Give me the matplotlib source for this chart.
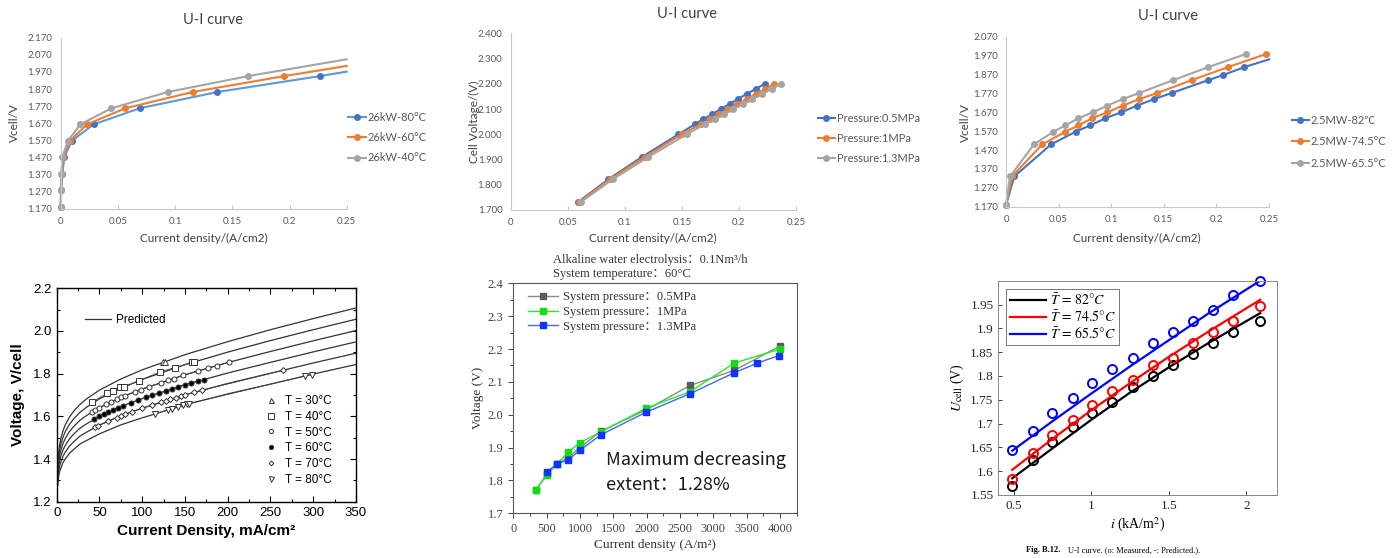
import matplotlib
matplotlib.use('Agg')
import matplotlib.pyplot as plt
from matplotlib.lines import Line2D
from matplotlib.ticker import MultipleLocator, FormatStrFormatter

plt.rcParams['mathtext.fontset'] = 'stix'

# ---------------- data ----------------
# Panel 1 (26 kW stack)
p1_x_80 = [0.0, 0.0005, 0.0015, 0.0032, 0.0099, 0.0288, 0.069, 0.137, 0.2267, 0.25]
p1_v_80 = [1.18, 1.281, 1.376, 1.475, 1.569, 1.664, 1.758, 1.853, 1.946, 1.972]
p1_x_60 = [0.0, 0.0004, 0.0008, 0.0017, 0.0082, 0.023, 0.0565, 0.1154, 0.1955, 0.25]
p1_v_60 = [1.18, 1.281, 1.376, 1.475, 1.569, 1.664, 1.758, 1.853, 1.946, 2.005]
p1_x_40 = [0.0, 0.0002, 0.0006, 0.0015, 0.0064, 0.0172, 0.0443, 0.0935, 0.164, 0.25]
p1_v_40 = [1.18, 1.281, 1.376, 1.475, 1.569, 1.664, 1.758, 1.853, 1.946, 2.044]
p1_labels = ['26kW-80°C', '26kW-60°C', '26kW-40°C']
p1_yticks = [1.17, 1.27, 1.37, 1.47, 1.57, 1.67, 1.77, 1.87, 1.97, 2.07, 2.17]
top_xticks = [0, 0.05, 0.1, 0.15, 0.2, 0.25]
top_xticklabels = ['0', '0.05', '0.1', '0.15', '0.2', '0.25']

# Panel 2 (pressure)
p2_v = [1.732, 1.822, 1.91, 2.0, 2.04, 2.06, 2.08, 2.10, 2.12, 2.14, 2.16, 2.18, 2.20]
p2_x_05 = [0.0593, 0.0856, 0.115, 0.147, 0.1615, 0.1688, 0.1767, 0.184, 0.1919, 0.1992, 0.2068, 0.215, 0.2225]
p2_x_10 = [0.0602, 0.087, 0.1174, 0.1498, 0.1668, 0.1747, 0.1828, 0.1907, 0.1986, 0.2068, 0.215, 0.2228, 0.231]
p2_x_13 = [0.0616, 0.0894, 0.1206, 0.1542, 0.1703, 0.179, 0.1872, 0.1951, 0.2033, 0.2114, 0.2202, 0.2287, 0.2369]
p2_labels = ['Pressure:0.5MPa', 'Pressure:1MPa', 'Pressure:1.3MPa']
p2_yticks = [1.7, 1.8, 1.9, 2.0, 2.1, 2.2, 2.3, 2.4]

# Panel 3 (2.5 MW stack)
p3_x_82 = [0.0, 0.0079, 0.0428, 0.0662, 0.0798, 0.0944, 0.1093, 0.1245, 0.141, 0.1575, 0.1923, 0.2063, 0.2266, 0.25]
p3_v_82 = [1.18, 1.33, 1.50, 1.567, 1.60, 1.638, 1.669, 1.705, 1.74, 1.772, 1.84, 1.867, 1.909, 1.95]
p3_x_745 = [0.0, 0.0057, 0.0345, 0.0564, 0.0688, 0.0817, 0.096, 0.1109, 0.1267, 0.1438, 0.1765, 0.211, 0.2471]
p3_v_745 = [1.18, 1.33, 1.50, 1.567, 1.60, 1.638, 1.669, 1.705, 1.74, 1.772, 1.84, 1.909, 1.978]
p3_x_655 = [0.0, 0.0038, 0.0266, 0.045, 0.0564, 0.0688, 0.0824, 0.0963, 0.1109, 0.1267, 0.159, 0.1923, 0.2278]
p3_v_655 = [1.18, 1.33, 1.50, 1.567, 1.60, 1.638, 1.669, 1.705, 1.74, 1.772, 1.84, 1.909, 1.978]
p3_labels = ['2.5MW-82℃', '2.5MW-74.5°C', '2.5MW-65.5°C']
p3_yticks = [1.17, 1.27, 1.37, 1.47, 1.57, 1.67, 1.77, 1.87, 1.97, 2.07]

# Panel 4 (predicted curves + measured points)
p4_i = [0, 0.5, 1, 2, 3.5, 5, 7.5, 10, 15, 20, 27, 35, 50, 75, 100, 150, 200, 250, 300, 350]
p4_pred_30 = [1.235, 1.305, 1.362, 1.421, 1.468, 1.499, 1.534, 1.560, 1.597, 1.625, 1.655, 1.682, 1.723, 1.775, 1.818, 1.889, 1.950, 2.006, 2.058, 2.108]
p4_pred_40 = [1.232, 1.290, 1.344, 1.399, 1.443, 1.471, 1.504, 1.528, 1.563, 1.589, 1.618, 1.643, 1.682, 1.732, 1.773, 1.842, 1.901, 1.955, 2.006, 2.055]
p4_pred_50 = [1.229, 1.275, 1.326, 1.377, 1.418, 1.443, 1.474, 1.496, 1.529, 1.553, 1.581, 1.604, 1.641, 1.689, 1.728, 1.795, 1.852, 1.904, 1.954, 2.002]
p4_pred_60 = [1.226, 1.260, 1.308, 1.355, 1.393, 1.415, 1.444, 1.464, 1.495, 1.517, 1.544, 1.565, 1.600, 1.646, 1.683, 1.748, 1.803, 1.853, 1.902, 1.949]
p4_pred_70 = [1.223, 1.245, 1.290, 1.333, 1.368, 1.387, 1.414, 1.432, 1.461, 1.481, 1.507, 1.526, 1.559, 1.603, 1.638, 1.701, 1.754, 1.802, 1.850, 1.896]
p4_pred_80 = [1.220, 1.230, 1.272, 1.311, 1.343, 1.359, 1.384, 1.400, 1.427, 1.445, 1.470, 1.487, 1.518, 1.560, 1.593, 1.654, 1.705, 1.751, 1.798, 1.843]
p4_m30_i = [124, 127]
p4_m30_v = [1.853, 1.856]
p4_m40_i = [41, 59, 66, 74, 79, 96, 121, 138, 158, 160]
p4_m40_v = [1.666, 1.708, 1.72, 1.736, 1.737, 1.766, 1.809, 1.828, 1.853, 1.855]
p4_m50_i = [41, 45, 50, 58, 64, 70, 75, 80, 92, 98, 108, 122, 130, 137, 148, 165, 177, 188, 202]
p4_m50_v = [1.619, 1.629, 1.641, 1.656, 1.668, 1.679, 1.689, 1.697, 1.716, 1.725, 1.739, 1.757, 1.768, 1.777, 1.792, 1.812, 1.826, 1.838, 1.854]
p4_m60_i = [44, 50, 55, 60, 66, 72, 78, 87, 95, 105, 112, 120, 128, 135, 142, 150, 157, 165, 172]
p4_m60_v = [1.586, 1.600, 1.609, 1.619, 1.629, 1.640, 1.650, 1.664, 1.675, 1.690, 1.699, 1.709, 1.719, 1.728, 1.737, 1.748, 1.756, 1.765, 1.772]
p4_m70_i = [45, 48, 60, 70, 75, 80, 88, 100, 112, 122, 128, 133, 140, 145, 150, 160, 170, 265]
p4_m70_v = [1.548, 1.554, 1.577, 1.594, 1.603, 1.610, 1.622, 1.638, 1.654, 1.667, 1.674, 1.680, 1.688, 1.695, 1.701, 1.712, 1.722, 1.816]
p4_m80_i = [115, 130, 135, 142, 148, 152, 155, 290, 298]
p4_m80_v = [1.612, 1.630, 1.636, 1.644, 1.651, 1.656, 1.660, 1.789, 1.796]
p4_labels = ['T = 30°C', 'T = 40°C', 'T = 50°C', 'T = 60°C', 'T = 70°C', 'T = 80°C']

# Panel 5 (system pressure, A/m2)
p5_x_05 = [335, 505, 655, 825, 1000, 1315, 1995, 2650, 3315, 4000]
p5_v_05 = [1.77, 1.82, 1.85, 1.87, 1.90, 1.950, 2.015, 2.089, 2.135, 2.209]
p5_x_10 = [335, 505, 655, 825, 1000, 1315, 1995, 2650, 3315, 4000]
p5_v_10 = [1.771, 1.816, 1.850, 1.886, 1.915, 1.948, 2.020, 2.070, 2.157, 2.200]
p5_x_13 = [505, 655, 825, 1000, 1315, 1995, 2650, 3315, 3660, 3980]
p5_v_13 = [1.827, 1.850, 1.863, 1.892, 1.939, 2.008, 2.064, 2.128, 2.157, 2.180]
p5_labels = ['System pressure：0.5MPa', 'System pressure：1MPa', 'System pressure：1.3MPa']

# Panel 6 (measured circles + predicted lines)
p6_i = [0.489, 0.622, 0.749, 0.880, 1.006, 1.135, 1.266, 1.401, 1.530, 1.657, 1.785, 1.914, 2.090]
p6_m_82 = [1.569, 1.623, 1.662, 1.692, 1.723, 1.746, 1.777, 1.800, 1.823, 1.846, 1.869, 1.892, 1.916]
p6_m_745 = [1.584, 1.639, 1.677, 1.708, 1.738, 1.769, 1.792, 1.823, 1.838, 1.869, 1.892, 1.916, 1.946]
p6_m_655 = [1.645, 1.685, 1.723, 1.754, 1.785, 1.815, 1.838, 1.869, 1.892, 1.915, 1.939, 1.970, 2.000]
p6_pi = [0.49, 0.75, 1.0, 1.25, 1.5, 1.75, 2.09]
p6_p_82 = [1.585, 1.648, 1.708, 1.765, 1.818, 1.868, 1.932]
p6_p_745 = [1.603, 1.668, 1.728, 1.785, 1.840, 1.892, 1.960]
p6_p_655 = [1.643, 1.705, 1.763, 1.820, 1.875, 1.930, 2.000]
p6_labels = [r'$\bar{T}\,=\,82°C$', r'$\bar{T}\,=\,74.5°C$', r'$\bar{T}\,=\,65.5°C$']

# ---------------- figure ----------------
W, H = 1398, 558
fig = plt.figure(figsize=(W / 100, H / 100), dpi=100)


def rect(x0, y0, x1, y1):
    return [x0 / W, 1 - y1 / H, (x1 - x0) / W, (y1 - y0) / H]


def fx(px):
    return px / W


def fy(py):
    return 1 - py / H


XL = 'Lato'
XL_LIST = ['Lato', 'Noto Sans CJK SC']
GRAY_TXT = '#595959'
AX_GRAY = '#c8c8c8'
BLUE, ORANGE, LGRAY = '#4472C4', '#ED7D31', '#A5A5A5'


def excel_axes(ax, yticks, ylim):
    ax.set_xlim(0, 0.25)
    ax.set_ylim(*ylim)
    for s in ['top', 'right']:
        ax.spines[s].set_visible(False)
    for s in ['left', 'bottom']:
        ax.spines[s].set_color(AX_GRAY)
        ax.spines[s].set_linewidth(0.8)
    ax.set_xticks(top_xticks)
    ax.set_xticklabels(top_xticklabels)
    ax.set_yticks(yticks)
    ax.yaxis.set_major_formatter(FormatStrFormatter('%.3f'))
    ax.tick_params(axis='x', direction='in', length=3, color=AX_GRAY, labelsize=7, labelcolor=GRAY_TXT, pad=6)
    ax.tick_params(axis='y', direction='out', length=0, labelsize=7, labelcolor=GRAY_TXT, pad=6)
    for t in ax.get_xticklabels() + ax.get_yticklabels():
        t.set_fontfamily(XL)


def excel_legend(ax, handles, labels, x, yc, spacing):
    ax.legend(handles, labels, loc='center left', bbox_to_anchor=(fx(x), fy(yc)),
              bbox_transform=fig.transFigure, frameon=False, borderaxespad=0, borderpad=0,
              handlelength=1.6, handletextpad=0.15, labelspacing=spacing,
              prop={'family': XL_LIST, 'size': 8}, labelcolor=GRAY_TXT)


# ---- Panel 1 ----
ax1 = fig.add_axes(rect(60.7, 37.7, 346.7, 209))
excel_axes(ax1, p1_yticks, (1.17, 2.17))
h1 = []
for xs, vs, lc, mc in [(p1_x_80, p1_v_80, '#5B9BD5', BLUE), (p1_x_60, p1_v_60, ORANGE, ORANGE),
                       (p1_x_40, p1_v_40, LGRAY, LGRAY)]:
    ln, = ax1.plot(xs, vs, color=lc, lw=1.5, marker='o', ms=4, mfc=mc, mec=mc,
                   markevery=list(range(len(xs) - 1)), clip_on=False)
    h1.append(Line2D([], [], color=lc, lw=1.5, marker='o', ms=4, mfc=mc, mec=mc))
fig.text(fx(213), fy(20), 'U-I curve', ha='center', va='center', fontsize=10.5, family=XL, color='#404040')
fig.text(fx(14), fy(123), 'Vcell/V', rotation=90, ha='center', va='center', fontsize=8.5, family=XL, color='#404040')
fig.text(fx(204), fy(238), 'Current density/(A/cm2)', ha='center', va='center', fontsize=8.5, family=XL, color='#404040')
excel_legend(ax1, h1, p1_labels, 348, 137.5, 0.85)

# ---- Panel 2 ----
ax2 = fig.add_axes(rect(510.7, 33.3, 796, 210))
excel_axes(ax2, p2_yticks, (1.7, 2.4))
h2 = []
for xs, c in [(p2_x_05, BLUE), (p2_x_10, ORANGE), (p2_x_13, LGRAY)]:
    ax2.plot(xs, p2_v, color=c, lw=1.5, marker='o', ms=4, clip_on=False)
    h2.append(Line2D([], [], color=c, lw=1.5, marker='o', ms=4))
fig.text(fx(687), fy(14), 'U-I curve', ha='center', va='center', fontsize=10.5, family=XL, color='#404040')
fig.text(fx(474), fy(122), 'Cell Voltage/(V)', rotation=90, ha='center', va='center', fontsize=8.5, family=XL, color='#404040')
fig.text(fx(653), fy(238), 'Current density/(A/cm2)', ha='center', va='center', fontsize=8.5, family=XL, color='#404040')
excel_legend(ax2, h2, p2_labels, 817.5, 138.3, 0.8)

# ---- Panel 3 ----
ax3 = fig.add_axes(rect(1006, 36.7, 1269, 206.7))
excel_axes(ax3, p3_yticks, (1.17, 2.07))
h3 = []
for xs, vs, c, last in [(p3_x_82, p3_v_82, BLUE, False), (p3_x_745, p3_v_745, ORANGE, True),
                        (p3_x_655, p3_v_655, LGRAY, True)]:
    me = list(range(len(xs))) if last else list(range(len(xs) - 1))
    ax3.plot(xs, vs, color=c, lw=1.5, marker='o', ms=4, markevery=me, clip_on=False)
    h3.append(Line2D([], [], color=c, lw=1.5, marker='o', ms=4))
fig.text(fx(1168), fy(16), 'U-I curve', ha='center', va='center', fontsize=10.5, family=XL, color='#404040')
fig.text(fx(965), fy(123), 'Vcell/V', rotation=90, ha='center', va='center', fontsize=8.5, family=XL, color='#404040')
fig.text(fx(1137), fy(238), 'Current density/(A/cm2)', ha='center', va='center', fontsize=8.5, family=XL, color='#404040')
excel_legend(ax3, h3, p3_labels, 1291.5, 141.7, 0.95)

# ---- Panel 4 ----
AR = 'Liberation Sans'
ax4 = fig.add_axes(rect(56.7, 288.3, 356, 501.7))
ax4.set_xlim(0, 350)
ax4.set_ylim(1.2, 2.2)
for v in [p4_pred_30, p4_pred_40, p4_pred_50, p4_pred_60, p4_pred_70, p4_pred_80]:
    ax4.plot(p4_i, v, color='#333333', lw=0.9)
mk = [('^', 'white', 4.2), ('s', 'white', 4.5), ('o', 'white', 3.6), ('o', 'black', 3.6), ('D', 'white', 3.0), ('v', 'white', 4.2)]
data4 = [(p4_m30_i, p4_m30_v), (p4_m40_i, p4_m40_v), (p4_m50_i, p4_m50_v),
         (p4_m60_i, p4_m60_v), (p4_m70_i, p4_m70_v), (p4_m80_i, p4_m80_v)]
hm = []
for (xs, vs), (m, fc, s) in zip(data4, mk):
    ax4.plot(xs, vs, ls='-', lw=0.6, color='#444444', marker=m, ms=s, mfc=fc, mec='#333333', mew=0.7)
    hm.append(Line2D([], [], ls='none', marker=m, ms=s - 0.6, mfc=fc, mec='#333333', mew=0.7))
ax4.xaxis.set_major_locator(MultipleLocator(50))
ax4.xaxis.set_minor_locator(MultipleLocator(25))
ax4.yaxis.set_major_locator(MultipleLocator(0.2))
ax4.yaxis.set_minor_locator(MultipleLocator(0.1))
ax4.yaxis.set_major_formatter(FormatStrFormatter('%.1f'))
ax4.tick_params(which='both', direction='in', top=True, right=True, labelsize=9.5, width=0.8)
ax4.tick_params(which='major', length=4)
ax4.tick_params(which='minor', length=2.5)
for t in ax4.get_xticklabels() + ax4.get_yticklabels():
    t.set_fontfamily(AR)
for s in ax4.spines.values():
    s.set_linewidth(1.0)
ax4.set_xlabel('Current Density, mA/cm²', fontsize=11, fontweight='bold', family=AR, labelpad=4)
ax4.set_ylabel('Voltage, V/cell', fontsize=11, fontweight='bold', family=AR, labelpad=6)
lg1 = ax4.legend([Line2D([], [], color='#333333', lw=0.9)], ['Predicted'], loc='center left',
                 bbox_to_anchor=(fx(85), fy(320)), bbox_transform=fig.transFigure, frameon=False,
                 borderaxespad=0, borderpad=0, handlelength=2.2, handletextpad=0.4,
                 prop={'family': AR, 'size': 8.5})
ax4.add_artist(lg1)
ax4.legend(hm, p4_labels, loc='center left', bbox_to_anchor=(fx(266), fy(440.5)),
           bbox_transform=fig.transFigure, frameon=False, borderaxespad=0, borderpad=0,
           handlelength=0.8, handletextpad=0.8, labelspacing=0.32, prop={'family': AR, 'size': 8.5})

# ---- Panel 5 ----
SERIF = 'Liberation Serif'
SERIF_CJK = ['Liberation Serif', 'Noto Sans CJK SC']
ax5 = fig.add_axes(rect(513.3, 283.3, 797.3, 513.3))
ax5.set_xlim(0, 4260)
ax5.set_ylim(1.7, 2.4)
h5 = []
for xs, vs, lc, mc in [(p5_x_05, p5_v_05, '#8a8a8a', '#5a5a5a'), (p5_x_10, p5_v_10, '#22ee22', '#11dd11'),
                       (p5_x_13, p5_v_13, '#4466ff', '#1133ff')]:
    ax5.plot(xs, vs, color=lc, lw=1.0, marker='s', ms=4.5, mfc=mc, mec=mc)
    h5.append(Line2D([], [], color=lc, lw=1.0, marker='s', ms=4, mfc=mc, mec=mc))
ax5.xaxis.set_major_locator(MultipleLocator(500))
ax5.xaxis.set_minor_locator(MultipleLocator(250))
ax5.yaxis.set_major_locator(MultipleLocator(0.1))
ax5.yaxis.set_minor_locator(MultipleLocator(0.05))
ax5.yaxis.set_major_formatter(FormatStrFormatter('%.1f'))
ax5.tick_params(which='both', direction='out', labelsize=9, colors='#444444', width=0.7)
ax5.tick_params(which='major', length=3.5)
ax5.tick_params(which='minor', length=2)
for t in ax5.get_xticklabels() + ax5.get_yticklabels():
    t.set_fontfamily(SERIF)
for s in ax5.spines.values():
    s.set_color('#555555')
    s.set_linewidth(0.8)
ax5.set_xlabel('Current density (A/m²)', fontsize=9.5, family=SERIF, color='#333333', labelpad=3)
ax5.set_ylabel('Voltage (V)', fontsize=9.5, family=SERIF, color='#333333', labelpad=3)
ax5.legend(h5, p5_labels, loc='center left', bbox_to_anchor=(fx(528), fy(312)),
           bbox_transform=fig.transFigure, frameon=False, borderaxespad=0, borderpad=0,
           handlelength=2.4, handletextpad=0.4, labelspacing=0.22,
           prop={'family': SERIF_CJK, 'size': 9}, labelcolor='#333333')
fig.text(fx(553), fy(259.5), 'Alkaline water electrolysis：0.1Nm³/h', ha='left', va='center',
         fontsize=9, family=SERIF_CJK, color='#333333')
fig.text(fx(553), fy(274.5), 'System temperature：60°C', ha='left', va='center',
         fontsize=9, family=SERIF_CJK, color='#333333')
fig.text(fx(606), fy(460), 'Maximum decreasing', ha='left', va='center', fontsize=13,
         family=['Noto Sans CJK SC'], color='#1a1a1a')
fig.text(fx(606), fy(485), 'extent：1.28%', ha='left', va='center', fontsize=13,
         family=['Noto Sans CJK SC'], color='#1a1a1a')

# ---- Panel 6 ----
ax6 = fig.add_axes(rect(998.3, 280.7, 1277.3, 495))
ax6.set_xlim(0.4, 2.2)
ax6.set_ylim(1.55, 2.0)
h6 = []
for mv, pv, c in [(p6_m_82, p6_p_82, 'black'), (p6_m_745, p6_p_745, '#ff0000'), (p6_m_655, p6_p_655, '#0000ff')]:
    ax6.plot(p6_i, mv, ls='none', marker='o', ms=6.5, mfc='none', mec=c, mew=1.4, clip_on=False)
    ax6.plot(p6_pi, pv, color=c, lw=1.6)
    h6.append(Line2D([], [], color=c, lw=1.6))
ax6.set_xticks([0.5, 1, 1.5, 2])
ax6.set_xticklabels(['0.5', '1', '1.5', '2'])
ax6.set_yticks([1.55, 1.6, 1.65, 1.7, 1.75, 1.8, 1.85, 1.9, 1.95])
ax6.set_yticklabels(['1.55', '1.6', '1.65', '1.7', '1.75', '1.8', '1.85', '1.9', '1.95'])
ax6.tick_params(direction='in', length=3, labelsize=9.5, colors='#262626', width=0.6)
for t in ax6.get_xticklabels() + ax6.get_yticklabels():
    t.set_fontfamily(SERIF)
for s in ax6.spines.values():
    s.set_color('#888888')
    s.set_linewidth(0.7)
ax6.set_xlabel(r'$i$ (kA/m$^2$)', fontsize=10, family=SERIF, labelpad=3)
ax6.set_ylabel(r'$U_{\rm cell}$ (V)', fontsize=10, family=SERIF, labelpad=3)
lg6 = ax6.legend(h6, p6_labels, loc='upper left', bbox_to_anchor=(0.028, 0.962), borderaxespad=0,
                 fancybox=False, edgecolor='#555555', fontsize=10, handlelength=2.6,
                 handletextpad=0.3, borderpad=0.25, labelspacing=0.1)
lg6.get_frame().set_linewidth(0.7)
fig.text(fx(1026), fy(550), 'Fig. B.12.', ha='left', va='center', fontsize=6, fontweight='bold', family=SERIF)
fig.text(fx(1068), fy(550), 'U-I curve. (o: Measured, -: Predicted.).', ha='left', va='center', fontsize=6, family=SERIF)

fig.savefig('out.png', dpi=100)
